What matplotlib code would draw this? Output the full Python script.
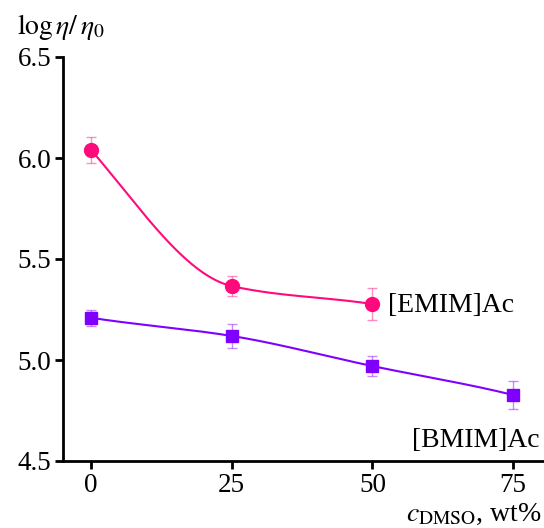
import numpy as np
import matplotlib
matplotlib.use("Agg")
import matplotlib.pyplot as plt

plt.rcParams["font.family"] = ["Liberation Serif", "DejaVu Serif"]
plt.rcParams["mathtext.fontset"] = "stix"

# values
conc_emim = [0, 25, 50]
eta_emim = [6.04, 5.366, 5.277]
err_emim = [0.065, 0.05, 0.08]

conc_bmim = [0, 25, 50, 75]
eta_bmim = [5.209, 5.119, 4.97, 4.827]
err_bmim = [0.04, 0.06, 0.05, 0.07]

PINK = "#ff0a7c"
PURPLE = "#8000ff"
END_TANGENT = 1.2   # end slope as a multiple of the end segment's secant


def smooth(x, y, n=200):
    # cubic hermite through the measured points (harmonic-mean slopes inside)
    x = np.asarray(x, float)
    y = np.asarray(y, float)
    h = np.diff(x)
    d = np.diff(y) / h
    m = np.zeros_like(y)
    for k in range(1, len(x) - 1):
        if d[k - 1] * d[k] > 0:
            w1 = 2 * h[k] + h[k - 1]
            w2 = h[k] + 2 * h[k - 1]
            m[k] = (w1 + w2) / (w1 / d[k - 1] + w2 / d[k])
    m[0] = END_TANGENT * d[0]
    m[-1] = END_TANGENT * d[-1]
    xs, ys = [], []
    for k in range(len(h)):
        t = np.linspace(0, 1, n)
        h00 = 2 * t**3 - 3 * t**2 + 1
        h10 = t**3 - 2 * t**2 + t
        h01 = -2 * t**3 + 3 * t**2
        h11 = t**3 - t**2
        xs.append(x[k] + t * h[k])
        ys.append(h00 * y[k] + h10 * h[k] * m[k] + h01 * y[k + 1] + h11 * h[k] * m[k + 1])
    return np.concatenate(xs), np.concatenate(ys)


fig = plt.figure(figsize=(5.44, 5.28), dpi=100)
ax = fig.add_axes([63 / 544, 67 / 528, 1 - 63 / 544, 404 / 528])

for xs, ys, es, col, mk, ms in [
    (conc_emim, eta_emim, err_emim, PINK, "o", 10),
    (conc_bmim, eta_bmim, err_bmim, PURPLE, "s", 8.5),
]:
    cx, cy = smooth(xs, ys)
    ax.plot(cx, cy, color=col, lw=1.5, zorder=2)
    ax.errorbar(xs, ys, yerr=es, fmt="none", ecolor=col, alpha=0.45,
                elinewidth=1, capsize=3.5, capthick=1, zorder=3)
    ax.plot(xs, ys, ls="none", marker=mk, ms=ms, color=col, zorder=4)

ax.text(52.8, 5.27, "[EMIM]Ac", fontsize=20, ha="left", va="center")
ax.text(57.0, 4.60, "[BMIM]Ac", fontsize=20, ha="left", va="center")

ax.set_xlim(-5, 80.5)
ax.set_ylim(4.5, 6.5)
ax.set_xticks([0, 25, 50, 75])
ax.set_yticks([4.5, 5.0, 5.5, 6.0, 6.5])
ax.set_yticklabels(["4.5", "5.0", "5.5", "6.0", "6.5"])

for s in ["top", "right"]:
    ax.spines[s].set_visible(False)
for s in ["left", "bottom"]:
    ax.spines[s].set_linewidth(2)
ax.tick_params(direction="out", length=5.5, width=2, labelsize=19.5, pad=3)

fig.text(17 / 544, 1 - 34 / 528, r"$\mathrm{log}\,\eta/\,\eta_0$", fontsize=20,
         ha="left", va="baseline")
fig.text(542 / 544, 1 - 521 / 528, r"$c_{\mathrm{DMSO}}$, wt%", fontsize=20,
         ha="right", va="baseline")

fig.savefig("out.png", dpi=100)
